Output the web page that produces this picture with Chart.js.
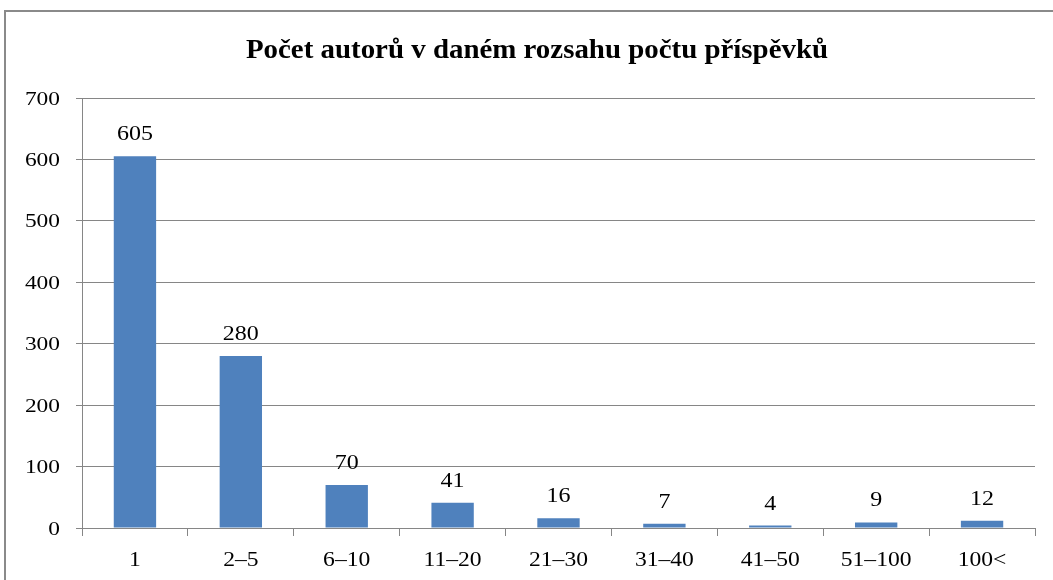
<!DOCTYPE html>
<html>
<head>
<meta charset="utf-8">
<script src="https://cdn.jsdelivr.net/npm/chart.js@4/dist/chart.umd.min.js"></script>
<style>
  html, body { margin: 0; padding: 0; background: #fff; overflow: hidden; }
  #wrap { position: relative; width: 1053px; height: 580px; }
  #frame { position: absolute; left: 4px; top: 10px; width: 1070px; height: 600px; border: 2px solid #8a8a8a; box-sizing: border-box; pointer-events: none; }
  canvas { position: absolute; left: 0; top: 0; }
</style>
</head>
<body>
<div id="wrap">
  <canvas id="c" width="1053" height="580"></canvas>
  <div id="frame"></div>
</div>
<script>
const titleText = "Počet autorů v daném rozsahu počtu příspěvků";
const categories = ["1", "2–5", "6–10", "11–20", "21–30", "31–40", "41–50", "51–100", "100<"];
const authorCounts = [605, 280, 70, 41, 16, 7, 4, 9, 12];
const yMin = 0, yMax = 700, yStep = 100;

const serif = "'Liberation Serif', 'Times New Roman', serif";

// draw text with a slight horizontal stretch (the reference text is wide)
function drawText(ctx, text, x, y, align, font, sx) {
  ctx.save();
  ctx.font = font;
  ctx.fillStyle = '#000';
  ctx.textBaseline = 'alphabetic';
  const w = ctx.measureText(text).width * sx;
  let left = x;
  if (align === 'center') left = x - w / 2;
  else if (align === 'right') left = x - w;
  ctx.translate(left, y);
  ctx.scale(sx, 1);
  ctx.textAlign = 'left';
  ctx.fillText(text, 0, 0);
  ctx.restore();
}

const textPlugin = {
  id: 'textPlugin',
  afterDraw(chart) {
    const ctx = chart.ctx;
    const xs = chart.scales.x, ys = chart.scales.y;
    // title
    drawText(ctx, titleText, 537, 58, 'center', "bold 27px " + serif, 1.07);
    // y tick labels
    ys.ticks.forEach(t => {
      const py = ys.getPixelForValue(t.value);
      drawText(ctx, String(t.value), 60, py + 6.5, 'right', "19.5px " + serif, 1.2);
    });
    // x tick labels
    xs.ticks.forEach((t, i) => {
      const px = xs.getPixelForTick(i);
      drawText(ctx, xs.getLabelForValue(t.value), px, 566, 'center', "20px " + serif, 1.18);
    });
    // value labels
    const meta = chart.getDatasetMeta(0);
    meta.data.forEach((bar, i) => {
      drawText(ctx, String(chart.data.datasets[0].data[i]), bar.x, bar.y - 16, 'center', "20px " + serif, 1.2);
    });
  }
};

new Chart(document.getElementById('c'), {
  type: 'bar',
  data: {
    labels: categories,
    datasets: [{
      data: authorCounts,
      backgroundColor: '#4F81BD',
      borderWidth: 0,
      categoryPercentage: 0.8,
      barPercentage: 0.5
    }]
  },
  options: {
    responsive: false,
    animation: false,
    layout: { padding: { left: 0, right: 18, top: 98, bottom: 0 } },
    plugins: {
      legend: { display: false },
      tooltip: { enabled: false },
      title: { display: false }
    },
    scales: {
      x: {
        grid: { display: true, drawOnChartArea: false, drawTicks: true, tickLength: 8, color: '#868686', offset: true },
        border: { display: true, color: '#868686', width: 1 },
        ticks: { display: false, autoSkip: false },
        afterFit(scale) { scale.height = 52; }
      },
      y: {
        min: yMin, max: yMax,
        grid: { color: '#868686', tickLength: 6, drawTicks: true },
        border: { display: true, color: '#868686', width: 1 },
        ticks: { display: false, stepSize: yStep },
        afterFit(scale) { scale.width = 82; }
      }
    }
  },
  plugins: [textPlugin]
});
</script>
</body>
</html>
